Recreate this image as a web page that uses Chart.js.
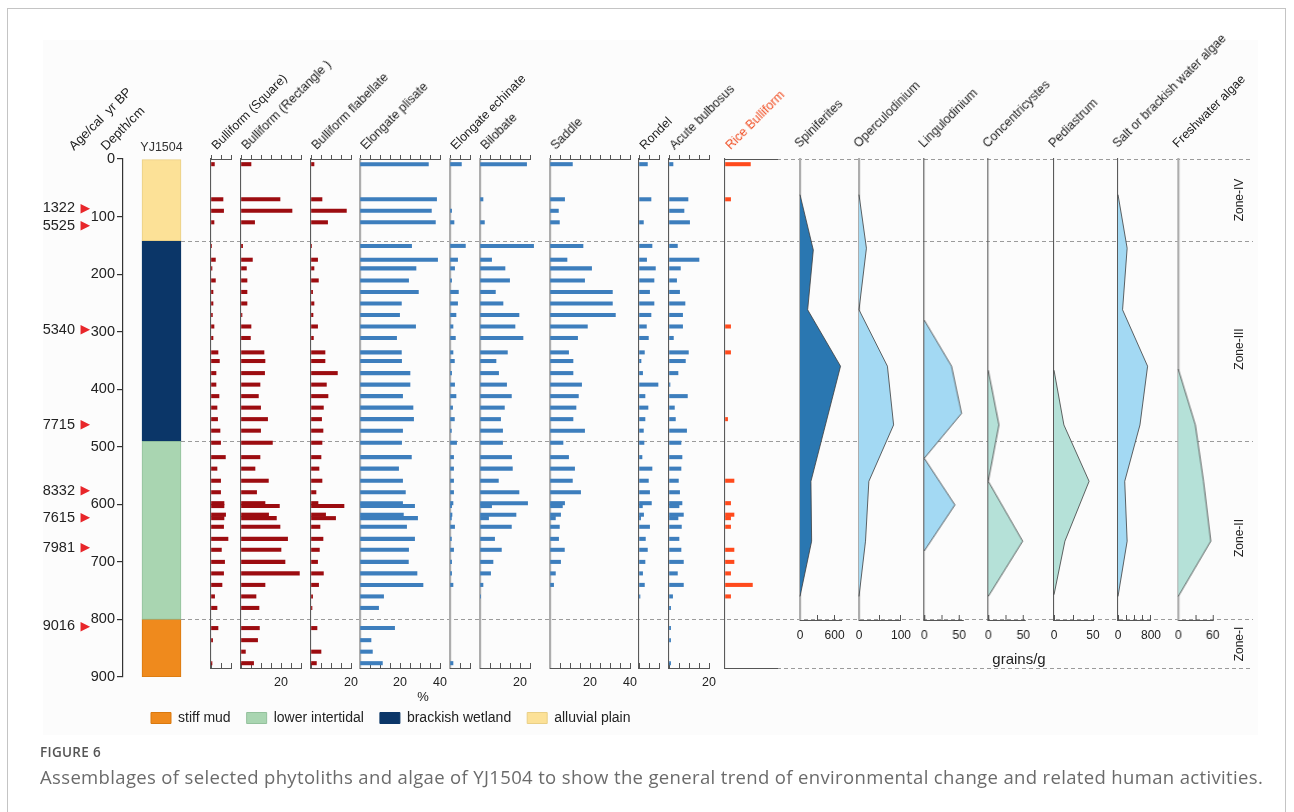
<!DOCTYPE html>
<html>
<head>
<meta charset="utf-8">
<script src="https://cdn.jsdelivr.net/npm/chart.js@4.4.0/dist/chart.umd.min.js"></script>
<style>
  body { margin: 0; background: #fff; }
  #stage { position: relative; width: 1294px; height: 812px; overflow: hidden; }
  #frame { position: absolute; left: 7px; top: 8px; width: 1279px; height: 900px; border: 1px solid #c4c4c4; box-sizing: border-box; }
  #figbg { position: absolute; left: 43px; top: 40px; width: 1215px; height: 695px; background: #fcfcfc; }
  .txt { position: absolute; white-space: pre; }
</style>
</head>
<body>
<div id="stage">
  <div id="frame"></div>
  <div id="figbg"></div>
</div>
<script>
// ---- data ----
const coreName = "YJ1504";

// lithology (cm)
const lithoNames = ["alluvial plain", "brackish wetland", "lower intertidal", "stiff mud"];
const lithoTop = [0, 142, 490, 800];
const lithoBottom = [142, 490, 800, 900];

// calibrated ages and the depth they sit at
const ageLabels = ["1322", "5525", "5340", "7715", "8332", "7615", "7981", "9016"];
const ageDepth = [86, 116, 297, 462, 576, 624, 675, 812];

// zone boundaries (cm)
const zoneBoundary = [142, 490, 800];
const zoneNames = ["Zone-IV", "Zone-III", "Zone-II", "Zone-I"];
const zoneLabelDepth = [71, 330, 659, 842];

// phytolith samples (cm) and percentages
const sampleDepth = [9, 70, 90, 110, 151, 175, 190, 211, 231, 251, 271, 291, 311, 336, 351, 372, 392, 412, 432, 452, 472,
  493, 518, 538, 559, 579, 598, 603, 618, 624, 639, 660, 679, 700, 720, 740, 760, 780, 815, 836, 856, 876];
const bulliformSquare = [1.7, 6, 6.3, 1.5, 0.3, 2.2, 0.5, 2.2, 1, 1, 0.7, 1.5, 1, 3.5, 4.2, 2.5, 2.5, 4, 3, 3.3, 4.5,
  4.8, 7.2, 3, 4.8, 4.8, 6.5, 6.5, 7.3, 6.5, 6.3, 8.5, 5.2, 6.8, 6.3, 5.5, 1.8, 3, 3.5, 0.8, 0, 0.5];
const bulliformRectangle = [5, 19.5, 25.5, 6.8, 0.8, 5.7, 2.7, 3, 3, 3, 0.5, 5, 4.7, 11.5, 12, 11.8, 9.5, 8.7, 9.8, 13.3, 9.8,
  15.7, 9.5, 7, 13.7, 7.8, 12, 19.2, 13.8, 17.7, 19.5, 23.3, 20, 22, 29.2, 12, 7.5, 9, 9.2, 8.3, 2.2, 6.3];
const bulliformFlabellate = [1.5, 5.5, 17.7, 8.3, 0.3, 3.3, 1.5, 3.7, 0.8, 1.5, 1, 3.3, 1.2, 7, 7, 13.2, 7.7, 8.5, 6.2, 5.3, 6,
  5.5, 5, 4, 5.5, 2.5, 3.5, 16.5, 7.3, 12.3, 4.5, 6, 4.2, 3.3, 6.2, 3.8, 0.8, 0.5, 3, 0, 5, 2.7];
const elongatePlisate = [34.2, 38.3, 35.7, 37.7, 25.8, 38.8, 28, 24.3, 29.2, 20.7, 19.8, 27.8, 18.3, 20.7, 20.8, 25, 25, 21.3, 26.5, 26.8, 21.3,
  20.8, 25.7, 19.3, 21.3, 22.7, 21.3, 27.3, 21.7, 28.8, 23.3, 27.3, 24.3, 24.2, 28.5, 31.5, 11.8, 9.3, 17.3, 5.5, 6.2, 11.2];
const elongateEchinate = [5.7, 0, 0.8, 2, 7.7, 3.8, 2.3, 0.8, 4.2, 3.8, 3, 1.5, 2.7, 1.5, 2.2, 0.8, 2.3, 3, 1.3, 2.2, 0.7,
  3.3, 1.8, 1.8, 1.8, 1.8, 1.5, 0.8, 1, 0.7, 2.3, 0.7, 1.8, 0.8, 0.8, 1.5, 0, 0, 0, 0, 0, 1.5];
const bilobate = [23.3, 1.5, 0, 2.2, 26.8, 5.8, 12.5, 14.8, 7.7, 11.5, 19.5, 17.5, 21.5, 13.7, 8, 9.3, 13.3, 15.7, 12.2, 10.3, 11.3,
  11.3, 15.8, 16.2, 9.2, 19.5, 23.8, 5.8, 18, 4.3, 15.7, 7.3, 10.7, 6.5, 5.3, 1.5, 0.3, 0, 0, 0, 0, 0];
const saddle = [11.2, 7.3, 4.2, 4.7, 16.5, 8.5, 20.8, 17.3, 31.2, 31.2, 32.7, 18.7, 13.8, 9.3, 11.5, 11.5, 15.8, 14.2, 13, 11.5, 17.3,
  6.5, 9.3, 12.3, 11.2, 15.3, 7.3, 6.2, 5.3, 2.7, 4.7, 4.3, 7.2, 5.3, 2.7, 1.8, 0, 0, 0, 0, 0, 0];
const rondel = [4.2, 6, 0, 2.2, 6.5, 3.8, 8.2, 7.5, 5.3, 7.5, 6, 3.7, 4.7, 2.7, 1, 1.8, 9.5, 3, 4.5, 3, 2.2,
  2.5, 1.5, 6.5, 4.7, 5.3, 6.2, 1.7, 2.3, 0.8, 5.3, 3.2, 4.2, 3, 1.8, 2.7, 0.5, 0, 0, 0, 0, 0];
const acuteBulbosus = [2, 9.5, 7.5, 10.3, 4.2, 15, 5.7, 3.8, 5.3, 8, 6.8, 6.8, 2.2, 9.7, 8.2, 4.5, 0.5, 9.2, 2.7, 3.2, 8.8,
  6, 6.5, 6, 4.7, 5.3, 6.5, 5, 7.2, 4.5, 6.2, 5, 6, 7.2, 4.2, 7.2, 1.8, 0.8, 0.8, 0.8, 0, 0.8];
const riceBulliform = [12.7, 2.8, 0, 0, 0, 0, 0, 0, 0, 0, 0, 2.8, 0, 2.8, 0, 0, 0, 0, 0, 1.3, 0,
  0, 0, 0, 4.5, 0, 2.8, 0, 4.5, 2.8, 2.8, 0, 4.5, 4.5, 2.8, 13.7, 2.8, 0, 0, 0, 0, 0];

// algae (grains/g)
const spiniferitesDepth = [62, 158, 262, 360, 560, 664, 760];
const spiniferites = [0, 231, 133, 704, 190, 202, 0];
const operculodiniumDepth = [62, 155, 262, 360, 462, 560, 664, 760];
const operculodinium = [0, 17.7, 0, 67.7, 82.4, 23.5, 15.5, 0];
const lingulodiniumDepth = [280, 360, 442, 520, 601, 681];
const lingulodinium = [0, 39, 53.3, 0, 43.8, 0];
const concentricystesDepth = [367, 462, 560, 664, 760];
const concentricystes = [0, 15.2, 0, 49, 0];
const pediastrumDepth = [367, 462, 560, 664, 757];
const pediastrum = [0, 12.7, 45, 14, 0];
const saltAlgaeDepth = [62, 155, 262, 360, 462, 560, 664, 760];
const saltAlgae = [0, 222, 111, 718, 533, 163, 222, 0];
const freshAlgaeDepth = [365, 462, 560, 664, 760];
const freshAlgae = [0, 29.7, 44, 56.6, 0];

// ---- layout / style ----
const W = 1294, H = 812;
const FONT = "'Liberation Sans', Arial, sans-serif";
const TOP_PX = 159, DEPTH_BOTTOM_PX = 677, DEPTH_MAX = 900;
const PX_PER_CM = (DEPTH_BOTTOM_PX - TOP_PX) / DEPTH_MAX;
const PANEL_BOTTOM_PX = 668, ALGAE_BOTTOM_PX = 620;
const panelMaxDepth = (PANEL_BOTTOM_PX - TOP_PX) / PX_PER_CM;
const algaeMaxDepth = (ALGAE_BOTTOM_PX - TOP_PX) / PX_PER_CM;
const PCT_PX = 2;

const lithoStyle = {
  "alluvial plain": { fill: "#fce197", edge: "#e9cf86" },
  "brackish wetland": { fill: "#0b3668", edge: "#0b3668" },
  "lower intertidal": { fill: "#a9d5b1", edge: "#93c19c" },
  "stiff mud": { fill: "#ef8a1d", edge: "#d9790f" }
};
const RED = "#9c0c10", BLUE = "#3d7ebd", ORANGE = "#ff4a1c";
const axisStyle = { dark: { color: "#5a5a5a", width: 1.1 }, light: { color: "#adadad", width: 2.2 } };

const phytoPanels = [
  { title: "Bulliform (Square)", values: bulliformSquare, x0: 210.7, max: 10, labels: [], color: RED, axis: "dark" },
  { title: "Bulliform (Rectangle )", values: bulliformRectangle, x0: 240.7, max: 30, labels: [20], color: RED, axis: "dark" },
  { title: "Bulliform flabellate", values: bulliformFlabellate, x0: 310.7, max: 20, labels: [20], color: RED, axis: "dark" },
  { title: "Elongate plisate", values: elongatePlisate, x0: 360, max: 40, labels: [20, 40], color: BLUE, axis: "light" },
  { title: "Elongate echinate", values: elongateEchinate, x0: 450, max: 10, labels: [], color: BLUE, axis: "light" },
  { title: "Bilobate", values: bilobate, x0: 480, max: 25, labels: [20], color: BLUE, axis: "light" },
  { title: "Saddle", values: saddle, x0: 550, max: 40, labels: [20, 40], color: BLUE, axis: "light" },
  { title: "Rondel", values: rondel, x0: 639.3, max: 10, labels: [], color: BLUE, axis: "dark" },
  { title: "Acute bulbosus", values: acuteBulbosus, x0: 669.3, max: 20, labels: [20], color: BLUE, axis: "dark" },
  { title: "Rice Bulliform", values: riceBulliform, x0: 724.7, max: 26, labels: [], color: ORANGE, axis: "dark", noTicks: true, titleColor: "#f04e23" }
];

const DARK_BLUE = "#2a77b1", LIGHT_BLUE = "#a3d9f3", MINT = "#b5e1d8";
const algaePanels = [
  { title: "Spiniferites", depth: spiniferitesDepth, values: spiniferites, x0: 800, ppu: 0.0578, max: 712, step: 300, labels: [0, 600], fill: DARK_BLUE, axis: "light" },
  { title: "Operculodinium", depth: operculodiniumDepth, values: operculodinium, x0: 858.7, ppu: 0.453, max: 100, step: 50, labels: [0, 100], fill: LIGHT_BLUE, axis: "light" },
  { title: "Lingulodinium", depth: lingulodiniumDepth, values: lingulodinium, x0: 924.3, ppu: 0.7, max: 55, step: 25, labels: [0, 50], fill: LIGHT_BLUE, axis: "dark" },
  { title: "Concentricystes", depth: concentricystesDepth, values: concentricystes, x0: 988.3, ppu: 0.7, max: 52, step: 25, labels: [0, 50], fill: MINT, axis: "dark" },
  { title: "Pediastrum", depth: pediastrumDepth, values: pediastrum, x0: 1054, ppu: 0.7867, max: 50, step: 25, labels: [0, 50], fill: MINT, axis: "dark" },
  { title: "Salt or brackish water algae", depth: saltAlgaeDepth, values: saltAlgae, x0: 1118.3, ppu: 0.045, max: 800, step: 200, labels: [0, 800], fill: LIGHT_BLUE, axis: "dark" },
  { title: "Freshwater algae", depth: freshAlgaeDepth, values: freshAlgae, x0: 1177.7, ppu: 0.5833, max: 60, step: 30, labels: [0, 60], fill: MINT, axis: "light" }
];

Chart.defaults.font.family = FONT;
Chart.defaults.color = "#222";
const stage = document.getElementById("stage");

function makeCanvas(left, top, width, height) {
  const c = document.createElement("canvas");
  c.width = width; c.height = height;
  c.style.cssText = `position:absolute;left:${left}px;top:${top}px;width:${width}px;height:${height}px`;
  stage.appendChild(c);
  return c;
}

function stepTicks(max, step) {
  const t = [];
  for (let v = 0; v <= max + 1e-9; v += step) t.push({ value: v });
  return t;
}

function addRotated(text, x, y, size, color, angle) {
  const el = document.createElement("div");
  const base = size * 0.8465;
  el.className = "txt";
  el.textContent = text;
  el.style.cssText += `left:${x}px;top:${y - base}px;font:${size}px ${FONT};line-height:${size}px;color:${color};transform-origin:0 ${base}px;transform:rotate(${angle}deg)`;
  stage.appendChild(el);
}

function addCentered(text, cx, cy, size, color, angle) {
  const el = document.createElement("div");
  el.className = "txt";
  el.textContent = text;
  el.style.cssText += `left:${cx}px;top:${cy}px;font:${size}px ${FONT};line-height:${size}px;color:${color};transform:translate(-50%,-50%) rotate(${angle || 0}deg)`;
  stage.appendChild(el);
}

const zoneLines = {
  id: "zoneLines",
  afterDraw(chart) {
    const y = chart.scales.y, ctx = chart.ctx;
    ctx.save();
    ctx.strokeStyle = "#9b9b9b";
    ctx.lineWidth = 1.2;
    ctx.setLineDash([4, 3]);
    const line = (d, x1, x2) => {
      const py = Math.round(y.getPixelForValue(d)) + 0.5;
      ctx.beginPath(); ctx.moveTo(x1, py); ctx.lineTo(x2, py); ctx.stroke();
    };
    zoneBoundary.forEach(d => line(d, 181, 1253));
    line(0, 777, 1253);
    line(panelMaxDepth, 777, 1253);
    ctx.restore();
  }
};

// ---- depth axis, ages, lithology ----
const ageAxis = (weight, width, cb, color, font, pad) => ({
  axis: "y", type: "linear", position: "left", weight, min: 0, max: DEPTH_MAX, reverse: true, offset: false,
  afterBuildTicks: s => { s.ticks = ageDepth.map(v => ({ value: v })); },
  ticks: { autoSkip: false, callback: cb, color, font, padding: pad },
  grid: { display: false, drawTicks: false }, border: { display: false },
  afterFit: s => { s.width = width; }
});

new Chart(makeCanvas(0, 0, W, H), {
  type: "bar",
  data: {
    labels: [coreName],
    datasets: lithoNames.map((n, i) => ({
      label: n,
      data: [{ x: coreName, y: [lithoTop[i], lithoBottom[i]] }],
      backgroundColor: lithoStyle[n].fill,
      borderColor: lithoStyle[n].edge,
      borderWidth: 1,
      borderSkipped: false,
      grouped: false,
      barThickness: 39,
      xAxisID: "x", yAxisID: "y"
    }))
  },
  options: {
    responsive: false, animation: false, events: [],
    layout: { padding: { left: 0, right: W - 200, top: TOP_PX - 20, bottom: H - DEPTH_BOTTOM_PX } },
    plugins: { legend: { display: false }, tooltip: { enabled: false } },
    scales: {
      x: { type: "category", position: "top", grid: { display: false, drawTicks: false }, border: { display: false },
        ticks: { color: "#333", font: { size: 12.5 }, padding: 4 }, afterFit: s => { s.height = 20; } },
      y: { type: "linear", position: "left", weight: 0, min: 0, max: DEPTH_MAX, reverse: true, offset: false,
        ticks: { stepSize: 100, autoSkip: false, color: "#222", font: { size: 14.5 }, padding: 2 },
        grid: { drawOnChartArea: false, tickLength: 6, color: "#333", lineWidth: 1.2 },
        border: { color: "#333", width: 1.2 },
        afterFit: s => { s.width = 32; } },
      yMark: ageAxis(1, 13, () => "\u25B6", "#e8262a", { size: 12.5, family: "'DejaVu Sans'" }, 1),
      yAge: ageAxis(2, 78, (v, i) => ageLabels[i], "#222", { size: 14.5 }, 3)
    }
  },
  plugins: [zoneLines]
});

// ---- phytolith bar panels ----
phytoPanels.forEach(p => {
  const w = p.max * PCT_PX;
  const ax = axisStyle[p.axis];
  const xCommon = {
    type: "linear", min: 0, max: p.max, offset: false,
    afterBuildTicks: s => { s.ticks = stepTicks(p.max, 5); },
    border: { color: "#555", width: 1 }
  };
  new Chart(makeCanvas(p.x0 - 20, 0, w + 40, H), {
    type: "bar",
    data: {
      datasets: [{
        data: sampleDepth.map((d, i) => ({ x: p.values[i] > 0 ? p.values[i] : null, y: d })),
        backgroundColor: p.color, borderWidth: 0, barThickness: 3.4, clip: false
      }]
    },
    options: {
      indexAxis: "y", responsive: false, animation: false, events: [],
      layout: { padding: { left: 20, right: 20, top: TOP_PX - 8, bottom: H - PANEL_BOTTOM_PX - 20 } },
      plugins: { legend: { display: false }, tooltip: { enabled: false } },
      scales: {
        y: { type: "linear", min: 0, max: panelMaxDepth, reverse: true, offset: false, z: 1,
          ticks: { display: false }, grid: { display: false, drawTicks: false },
          border: { color: ax.color, width: ax.width }, afterFit: s => { s.width = 0; } },
        x: Object.assign({}, xCommon, { position: "bottom",
          ticks: { display: !p.noTicks, autoSkip: false, maxRotation: 0, padding: 12,
            font: { size: 12.5 }, color: "#222", callback: v => p.labels.includes(v) ? String(v) : "" },
          grid: { drawOnChartArea: false, drawTicks: !p.noTicks, tickLength: -5, color: "#555" },
          afterFit: s => { s.height = 20; } }),
        xTop: Object.assign({}, xCommon, { position: "top",
          ticks: { display: false, autoSkip: false },
          grid: { drawOnChartArea: false, drawTicks: !p.noTicks, tickLength: 4, color: "#555" },
          afterFit: s => { s.height = 8; } })
      }
    }
  });
  addRotated(p.title, p.x0 + 6, 151, 12.5, p.titleColor || "#222", -45);
});

// ---- algae area panels ----
algaePanels.forEach(p => {
  const w = p.max * p.ppu;
  const ax = axisStyle[p.axis];
  new Chart(makeCanvas(p.x0 - 20, 0, w + 40, H), {
    type: "line",
    data: {
      datasets: [{
        data: p.depth.map((d, i) => ({ x: p.values[i], y: d })),
        fill: "origin", backgroundColor: p.fill, borderColor: "#3c3c3c", borderWidth: 0.8,
        pointRadius: 0, tension: 0, clip: false
      }]
    },
    options: {
      indexAxis: "y", responsive: false, animation: false, events: [],
      layout: { padding: { left: 20, right: 20, top: TOP_PX, bottom: H - ALGAE_BOTTOM_PX - 20 } },
      plugins: { legend: { display: false }, tooltip: { enabled: false } },
      scales: {
        y: { type: "linear", min: 0, max: algaeMaxDepth, reverse: true, offset: false, z: 1,
          ticks: { display: false }, grid: { display: false, drawTicks: false },
          border: { color: ax.color, width: ax.width }, afterFit: s => { s.width = 0; } },
        x: { type: "linear", position: "bottom", min: 0, max: p.max, offset: false,
          afterBuildTicks: s => { s.ticks = stepTicks(p.max, p.step); },
          ticks: { autoSkip: false, maxRotation: 0, padding: 13, font: { size: 12 }, color: "#222",
            callback: v => p.labels.includes(v) ? String(v) : "" },
          grid: { drawOnChartArea: false, tickLength: -5, color: "#555" },
          border: { color: "#555", width: 1 },
          afterFit: s => { s.height = 20; } }
      }
    }
  });
  addRotated(p.title, p.x0, 149, 12.5, "#222", -45);
});

// ---- legend ----
const legendOrder = [3, 2, 1, 0];
new Chart(makeCanvas(135, 695, 620, 110), {
  type: "bar",
  data: {
    labels: [],
    datasets: legendOrder.map(i => ({
      label: lithoNames[i], data: [],
      backgroundColor: lithoStyle[lithoNames[i]].fill,
      borderColor: lithoStyle[lithoNames[i]].edge, borderWidth: 1
    }))
  },
  options: {
    responsive: false, animation: false, events: [],
    layout: { padding: 0 },
    plugins: {
      legend: { position: "top", align: "start",
        labels: { boxWidth: 20, boxHeight: 11, padding: 16, color: "#222", font: { size: 14 } } },
      tooltip: { enabled: false }
    },
    scales: { x: { display: false }, y: { display: false } }
  }
});

// ---- other text ----
addRotated("Age/cal  yr BP", 74, 151.5, 13, "#222", -45);
addRotated("Depth/cm", 106, 151, 13, "#222", -45);
addCentered("%", 423, 696, 13, "#222");
addCentered("grains/g", 1019, 658, 15, "#222");
zoneNames.forEach((z, i) => {
  addCentered(z, 1239, TOP_PX + zoneLabelDepth[i] * PX_PER_CM, 12, "#222", -90);
});

const fig = document.createElement("div");
fig.className = "txt";
fig.textContent = "FIGURE 6";
fig.style.cssText += "left:40px;top:743px;font:600 13.5px 'Open Sans', sans-serif;color:#555;letter-spacing:0.3px";
stage.appendChild(fig);
const cap = document.createElement("div");
cap.className = "txt";
cap.textContent = "Assemblages of selected phytoliths and algae of YJ1504 to show the general trend of environmental change and related human activities.";
cap.style.cssText += "left:40px;top:764px;font:18.5px 'Open Sans', sans-serif;color:#6b6b6b;letter-spacing:0.35px";
stage.appendChild(cap);
</script>
</body>
</html>
